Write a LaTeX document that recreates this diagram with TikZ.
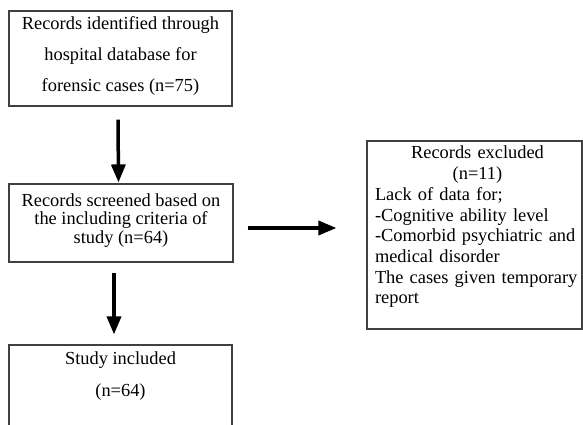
\documentclass[tikz,border=0pt]{standalone}
\usepackage{fontspec}
\setmainfont{Liberation Serif}
\usetikzlibrary{arrows.meta}
\begin{document}
\begin{tikzpicture}[x=1pt,y=-1pt,
  boxframe/.style={draw=black!75,line width=1.1pt,inner sep=0pt},
  boxtext/.style={inner sep=0pt,align=center},
  flow/.style={line width=3.5pt,-{Triangle[length=18pt,width=14pt]}}]
\useasboundingbox (0,0) rectangle (583,425);
% frames
\node[boxframe,minimum width=223pt,minimum height=95pt] (b1) at (120.5,58.5) {};
\node[boxframe,minimum width=224pt,minimum height=78pt] (b2) at (121,223) {};
\node[boxframe,minimum width=215pt,minimum height=188pt] (b3) at (474.5,235) {};
\node[boxframe,minimum width=223pt,minimum height=110pt] (b4) at (120.5,400) {};
% texts
\node[boxtext,font=\fontsize{18.4}{31}\selectfont] (b1t) at (120.5,56)
  {Records identified through\\hospital database for\\forensic cases (n=75)};
\node[boxtext,font=\fontsize{18.4}{18.5}\selectfont] (b2t) at (121,220.5)
  {Records screened based on\\the including criteria of\\study (n=64)};
\node[inner sep=0pt,text width=205pt,align=left,font=\fontsize{18.4}{20.7}\selectfont] (b3t) at (477.5,227)
  {{\centering Records excluded\\(n=11)\par}
   Lack of data for;\\
   -Cognitive ability level\\
   -Comorbid psychiatric and\\
   medical disorder\\
   The cases given temporary\\
   report};
\node[boxtext,font=\fontsize{18.4}{32}\selectfont] (b4t) at (120.5,376)
  {Study included\\(n=64)};
% connectors
\draw[flow] ([xshift=-2.5pt,yshift=-13pt]b1.south) -- ([xshift=-2.5pt,yshift=1pt]b2.north);
\draw[flow] ([xshift=-7pt,yshift=-10pt]b2.south) -- ([xshift=-6.5pt,yshift=10pt]b4.north);
\draw[flow] ([xshift=14pt,yshift=-5pt]b2.east) -- ([xshift=-30pt,yshift=7pt]b3.west);
\end{tikzpicture}
\end{document}
